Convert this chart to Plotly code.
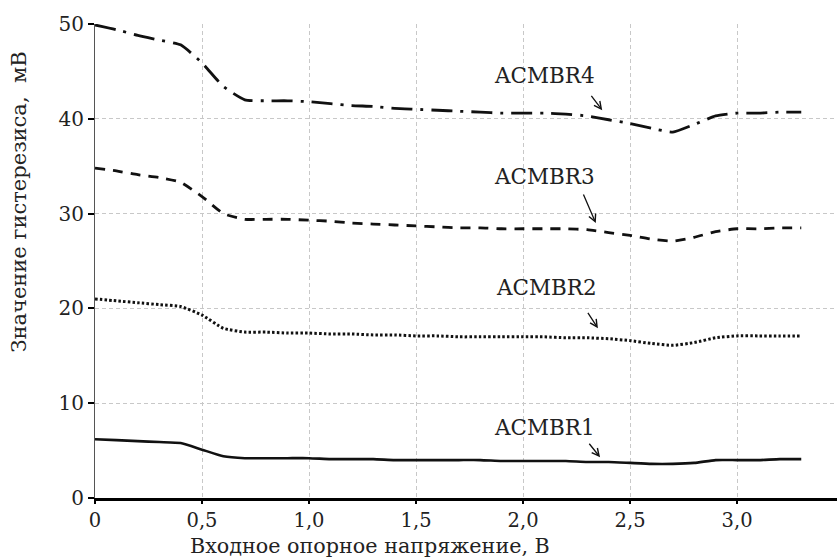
import plotly.graph_objects as go

# ---- data ----
x_vals = [0.0, 0.1, 0.2, 0.3, 0.4, 0.5, 0.6, 0.7, 0.8, 0.9, 1.0, 1.1, 1.2, 1.3, 1.4, 1.5, 1.6,
          1.7, 1.8, 1.9, 2.0, 2.1, 2.2, 2.3, 2.4, 2.5, 2.6, 2.7, 2.8, 2.9, 3.0, 3.1, 3.2, 3.3]

acmbr4 = [49.9, 49.4, 48.8, 48.3, 47.8, 45.9, 43.4, 42.0, 41.9, 41.9, 41.8, 41.6, 41.4, 41.3, 41.1, 41.0, 40.9,
          40.8, 40.7, 40.6, 40.6, 40.6, 40.5, 40.3, 39.9, 39.5, 39.0, 38.6, 39.4, 40.3, 40.6, 40.6, 40.7, 40.7]
acmbr3 = [34.8, 34.5, 34.1, 33.8, 33.3, 31.8, 30.0, 29.4, 29.4, 29.4, 29.3, 29.2, 29.0, 28.9, 28.8, 28.7, 28.6,
          28.5, 28.5, 28.4, 28.4, 28.4, 28.4, 28.3, 28.0, 27.7, 27.3, 27.1, 27.5, 28.1, 28.4, 28.4, 28.5, 28.5]
acmbr2 = [21.0, 20.8, 20.6, 20.4, 20.2, 19.3, 17.9, 17.5, 17.5, 17.4, 17.4, 17.3, 17.3, 17.2, 17.2, 17.1, 17.1,
          17.0, 17.0, 17.0, 17.0, 17.0, 16.9, 16.9, 16.8, 16.6, 16.3, 16.1, 16.4, 16.9, 17.1, 17.1, 17.1, 17.1]
acmbr1 = [6.2, 6.1, 6.0, 5.9, 5.8, 5.1, 4.4, 4.2, 4.2, 4.2, 4.2, 4.1, 4.1, 4.1, 4.0, 4.0, 4.0,
          4.0, 4.0, 3.9, 3.9, 3.9, 3.9, 3.8, 3.8, 3.7, 3.6, 3.6, 3.7, 4.0, 4.0, 4.0, 4.1, 4.1]

series_names = ["ACMBR1", "ACMBR2", "ACMBR3", "ACMBR4"]
series_values = [acmbr1, acmbr2, acmbr3, acmbr4]

x_tickvals = [0, 0.5, 1.0, 1.5, 2.0, 2.5, 3.0]
x_ticktext = ["0", "0,5", "1,0", "1,5", "2,0", "2,5", "3,0"]
y_tickvals = [0, 10, 20, 30, 40, 50]
y_ticktext = ["0", "10", "20", "30", "40", "50"]

x_title = "Входное опорное напряжение, В"
y_title = "Значение гистерезиса,  мВ"

# label positions (text centre) and arrow tips, in data units
label_pos = {"ACMBR4": (2.10, 44.6), "ACMBR3": (2.10, 33.9), "ACMBR2": (2.11, 22.2), "ACMBR1": (2.10, 7.4)}
arrow_tip = {"ACMBR4": (2.37, 40.9), "ACMBR3": (2.34, 29.0), "ACMBR2": (2.35, 17.9), "ACMBR1": (2.36, 4.3)}
arrow_off = {"ACMBR4": (-12, -16), "ACMBR3": (-13, -30), "ACMBR2": (-11, -17), "ACMBR1": (-12, -15)}

# ---- styles ----
FONT = "DejaVu Serif"
TXT = "#222222"
styles = {
    "ACMBR1": dict(dash="solid", width=2.6),
    "ACMBR2": dict(dash="2.5px,2.2px", width=3),
    "ACMBR3": dict(dash="10px,8px", width=2.8),
    "ACMBR4": dict(dash="21px,8px,3px,8px", width=2.8),
}

fig = go.Figure()
for name, vals in zip(series_names, series_values):
    st = styles[name]
    fig.add_trace(go.Scatter(
        x=x_vals, y=vals, mode="lines", name=name,
        line=dict(color="#111111", width=st["width"], dash=st["dash"], shape="spline", smoothing=0.5),
        showlegend=False,
    ))

annotations = []
for name in series_names:
    lx, ly = label_pos[name]
    annotations.append(dict(x=lx, y=ly, xref="x", yref="y", text=name, showarrow=False,
                            font=dict(family=FONT, size=21.5, color=TXT), xanchor="center", yanchor="middle"))
    tx, ty = arrow_tip[name]
    ax, ay = arrow_off[name]
    annotations.append(dict(x=tx, y=ty, xref="x", yref="y", text="", showarrow=True,
                            ax=ax, ay=ay, arrowhead=5, arrowsize=1.1, arrowwidth=1.3,
                            arrowcolor="#111111", standoff=0, startstandoff=0))

annotations.append(dict(x=-0.102, y=0.624, xref="paper", yref="paper", text=y_title, textangle=-90,
                        showarrow=False, font=dict(family=FONT, size=21, color=TXT),
                        xanchor="center", yanchor="middle"))
annotations.append(dict(x=0.371, y=-0.101, xref="paper", yref="paper", text=x_title,
                        showarrow=False, font=dict(family=FONT, size=20.7, color=TXT),
                        xanchor="center", yanchor="middle"))

fig.update_layout(
    width=837, height=560,
    margin=dict(l=95, r=0, t=24, b=62),
    paper_bgcolor="white", plot_bgcolor="white",
    font=dict(family=FONT, color=TXT),
    annotations=annotations,
    xaxis=dict(
        range=[0, 3.467], tickvals=x_tickvals, ticktext=x_ticktext,
        showline=True, linecolor="#000000", linewidth=2.5,
        ticks="outside", ticklen=3, tickwidth=2, tickcolor="#000000",
        showgrid=True, gridcolor="#c8c8c8", gridwidth=1, griddash="4px,3px",
        zeroline=False, tickfont=dict(family=FONT, size=19.5, color=TXT),
    ),
    yaxis=dict(
        range=[0, 50], tickvals=y_tickvals, ticktext=y_ticktext,
        showline=True, linecolor="#555555", linewidth=1.2,
        ticks="outside", ticklen=6, tickwidth=2, tickcolor="#000000",
        showgrid=True, gridcolor="#c8c8c8", gridwidth=1, griddash="4px,3px",
        zeroline=False, tickfont=dict(family=FONT, size=20, color=TXT),
    ),
)

fig.write_html("out.html")
